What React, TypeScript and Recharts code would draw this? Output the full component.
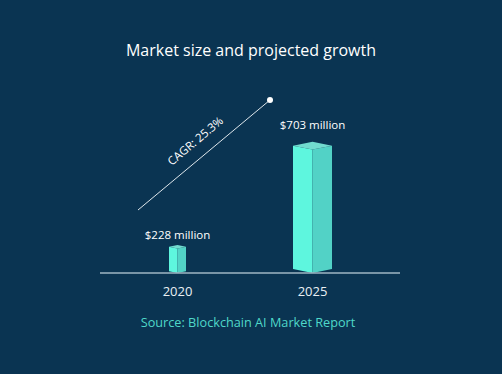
import { BarChart, Bar, XAxis, YAxis, LabelList } from "recharts";

// market size in USD million
const years = ["2020", "2025"];
const marketSize = [228, 703];
const cagrLabel = "CAGR: 25.3%";

const data = years.map((year, i) => ({ year, value: marketSize[i] }));

const BG = "#0a3452";
const FRONT = "#5ef6de";
const SIDE = "#52d2c6";
const TOP = "#72dbcf";
// prism widths in px, one per bar
const prismWidths = [17, 39];

const Prism = (props: any) => {
  const { x, y, width, height, index } = props;
  const w = prismWidths[index] ?? width;
  const cx = x + width / 2;
  const left = cx - w / 2;
  const right = cx + w / 2;
  const mid = cx;
  const d = w * 0.1;
  const base = y + height;
  return (
    <g>
      <polygon
        points={`${left},${y} ${mid},${y + d} ${mid},${base} ${left},${base - d}`}
        fill={FRONT}
      />
      <polygon
        points={`${mid},${y + d} ${right},${y} ${right},${base - d} ${mid},${base}`}
        fill={SIDE}
      />
      <polygon
        points={`${left},${y} ${mid},${y - d} ${right},${y} ${mid},${y + d}`}
        fill={TOP}
      />
    </g>
  );
};

// value label sits higher above the wider prism
const ValueLabel = (props: any) => {
  const { x, y, width, value, index } = props;
  const w = prismWidths[index] ?? width;
  const gap = w * 0.4 - 2;
  return (
    <text
      x={x + width / 2}
      y={y - gap - 3}
      textAnchor="middle"
      fill="#ffffff"
      fontSize={11.5}
      fontFamily="'Open Sans', sans-serif"
    >
      {`$${value} million`}
    </text>
  );
};

export default function App() {
  return (
    <div
      style={{
        width: 502,
        height: 374,
        background: BG,
        position: "fixed",
        left: 0,
        top: 0,
        fontFamily: "'Open Sans', sans-serif",
      }}
    >
      <style>{`body{margin:0;background:${BG};}`}</style>
      <BarChart
        width={502}
        height={374}
        data={data}
        margin={{ top: 125, right: 102, bottom: 71, left: 100 }}
        barCategoryGap={0}
      >
        <XAxis
          dataKey="year"
          axisLine={{ stroke: "#9fb6c4", strokeWidth: 1.5 }}
          tickLine={false}
          tickMargin={8}
          height={30}
          padding={{ left: 10, right: 20 }}
          tick={{ fill: "#e9eff3", fontSize: 13, fontFamily: "'Open Sans', sans-serif" }}
        />
        <YAxis hide domain={[105, 800]} allowDataOverflow />
        <Bar dataKey="value" shape={<Prism />} isAnimationActive={false}>
          <LabelList dataKey="value" content={<ValueLabel />} />
        </Bar>
        <text
          x={251}
          y={56}
          textAnchor="middle"
          fill="#ffffff"
          fontSize={16}
          fontFamily="'Open Sans', sans-serif"
        >
          Market size and projected growth
        </text>
        <text
          x={248}
          y={327}
          textAnchor="middle"
          fill="#4fd8c9"
          fontSize={12.7}
          fontFamily="'Open Sans', sans-serif"
        >
          Source: Blockchain AI Market Report
        </text>
        <g>
          <line x1={138} y1={210} x2={270} y2={100} stroke="#dfe7ec" strokeWidth={1} />
          <circle cx={270} cy={100} r={3} fill="#ffffff" />
          <text
            x={198}
            y={144}
            textAnchor="middle"
            fill="#ffffff"
            fontSize={11.5}
            fontFamily="'Open Sans', sans-serif"
            transform="rotate(-40 198 144)"
          >
            {cagrLabel}
          </text>
        </g>
      </BarChart>
    </div>
  );
}
